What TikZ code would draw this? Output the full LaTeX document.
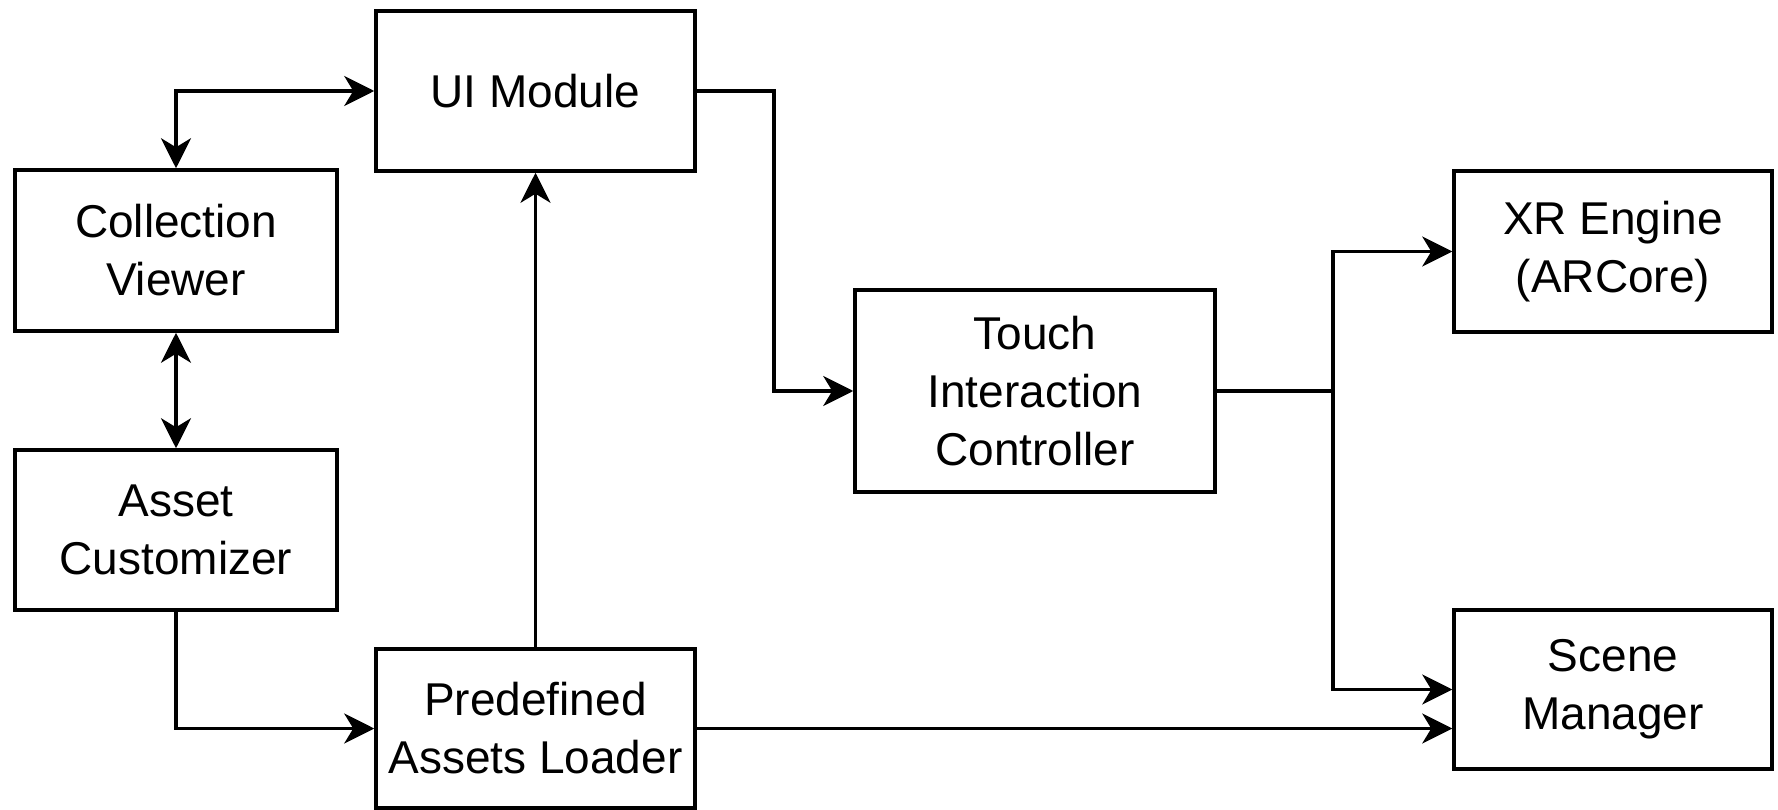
\documentclass[tikz,border=0pt]{standalone}
\usepackage{fontspec}
\setmainfont{Liberation Sans}
\usetikzlibrary{arrows.meta}
\begin{document}
\begin{tikzpicture}[x=1pt,y=-1pt,
  box/.style={draw=black, line width=3.5pt, fill=white, align=center, inner sep=0pt,
    font=\fontsize{46}{58}\selectfont},
  link/.style={line width=3.5pt, draw=black},
  >={Stealth[length=30pt,width=30pt,inset=9pt]}]
\useasboundingbox (0,0) rectangle (1778,810);

% components
\node[box, minimum width=319pt, minimum height=160pt] (ui)  at (535.5,91)   {UI Module};
\node[box, minimum width=322pt, minimum height=161pt] (cv)  at (176,250.5)  {Collection\\Viewer};
\node[box, minimum width=322pt, minimum height=160pt] (ac)  at (176,530)    {Asset\\Customizer};
\node[box, minimum width=319pt, minimum height=159pt] (pal) at (535.5,728.5) {Predefined\\Assets Loader};
\node[box, minimum width=360pt, minimum height=202pt] (tic) at (1035,391)   {Touch\\Interaction\\Controller};
\node[box, minimum width=318pt, minimum height=161pt] (xr)  at (1613,251.5) {XR Engine\\(ARCore)};
\node[box, minimum width=318pt, minimum height=159pt] (sm)  at (1613,689.5) {Scene\\Manager};

\coordinate (uijog) at (774,91);
\coordinate (split) at (1333,391);

% connections
\draw[link,<->] (cv.north) |- (ui.west);
\draw[link,<->] (cv.south) -- (ac.north);
\draw[link,->] (ac.south) |- (pal.west);
\draw[link,->] (pal.north) -- (ui.south);
\draw[link,->] (ui.east) -- (uijog) |- (tic.west);
\draw[link,->] (tic.east) -- (split) |- (xr.west);
\draw[link,->] (split) |- (sm.west);
\draw[link,->] (pal.east) -- (pal.east -| sm.west);
\end{tikzpicture}
\end{document}
